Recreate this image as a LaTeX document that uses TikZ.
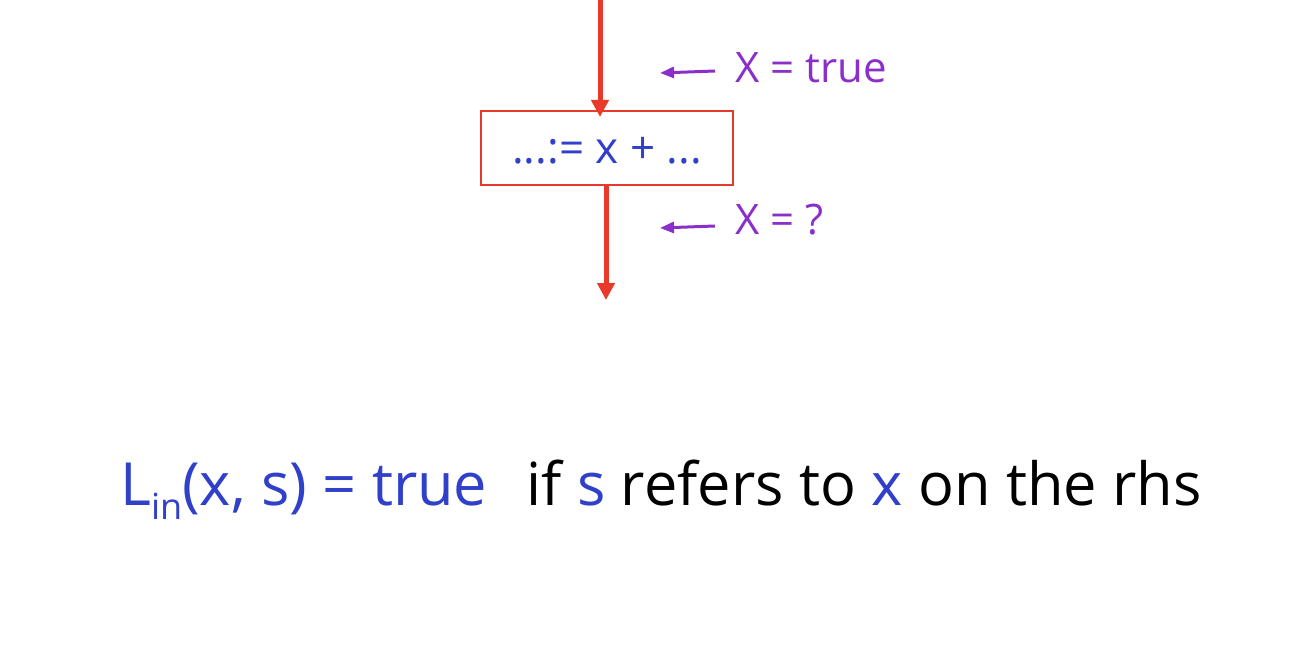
\documentclass[tikz,border=0pt]{standalone}
\usepackage{fontspec}
\setmainfont{Open Sans}
\usetikzlibrary{arrows.meta}
\definecolor{flowred}{HTML}{E8392A}
\definecolor{stmtblue}{HTML}{3040C8}
\definecolor{notepurple}{HTML}{8B2FC9}
\tikzset{
  flow/.style={draw=flowred, line width=5pt, -{Triangle[length=17pt,width=17pt]}},
  note/.style={draw=notepurple, line width=3pt, -{Triangle[length=14pt,width=11pt]}},
  notetext/.style={text=notepurple, font=\fontsize{42}{48}\selectfont, anchor=base west, inner sep=0pt},
  stmt/.style={draw=flowred, line width=2pt, minimum width=252pt, minimum height=74pt, inner sep=0pt, text height=32pt, text depth=0pt, text=stmtblue, font=\fontsize{44}{50}\selectfont}
}
\begin{document}
\begin{tikzpicture}[x=1pt,y=-1pt]
\useasboundingbox (0,0) rectangle (1308,660);
\node[stmt] (s) at (607,148) {...:= x + ...};
\coordinate (top) at (600,0);
\coordinate (topend) at (600,117);
\draw[flow] (top) -- (topend);
\coordinate (botstart) at (606,185);
\coordinate (botend) at (606,300);
\draw[flow] (botstart) -- (botend);
\coordinate (n1a) at (715,71);
\coordinate (n1b) at (660,73);
\draw[note] (n1a) -- (n1b);
\coordinate (n2a) at (715,226);
\coordinate (n2b) at (660,228);
\draw[note] (n2a) -- (n2b);
\node[notetext] (t1) at (735,83) {X = true};
\node[notetext] (t2) at (735,235) {X = ?};
\node[anchor=base west, inner sep=0pt, font=\fontsize{59.5}{66}\selectfont] (rule) at (120,505)
  {\textcolor{stmtblue}{L\raisebox{-0.25em}{\fontsize{36}{40}\selectfont in}(x, s) = true}\hspace{0.4em} if \textcolor{stmtblue}{s} refers to \textcolor{stmtblue}{x} on the rhs};
\end{tikzpicture}
\end{document}
